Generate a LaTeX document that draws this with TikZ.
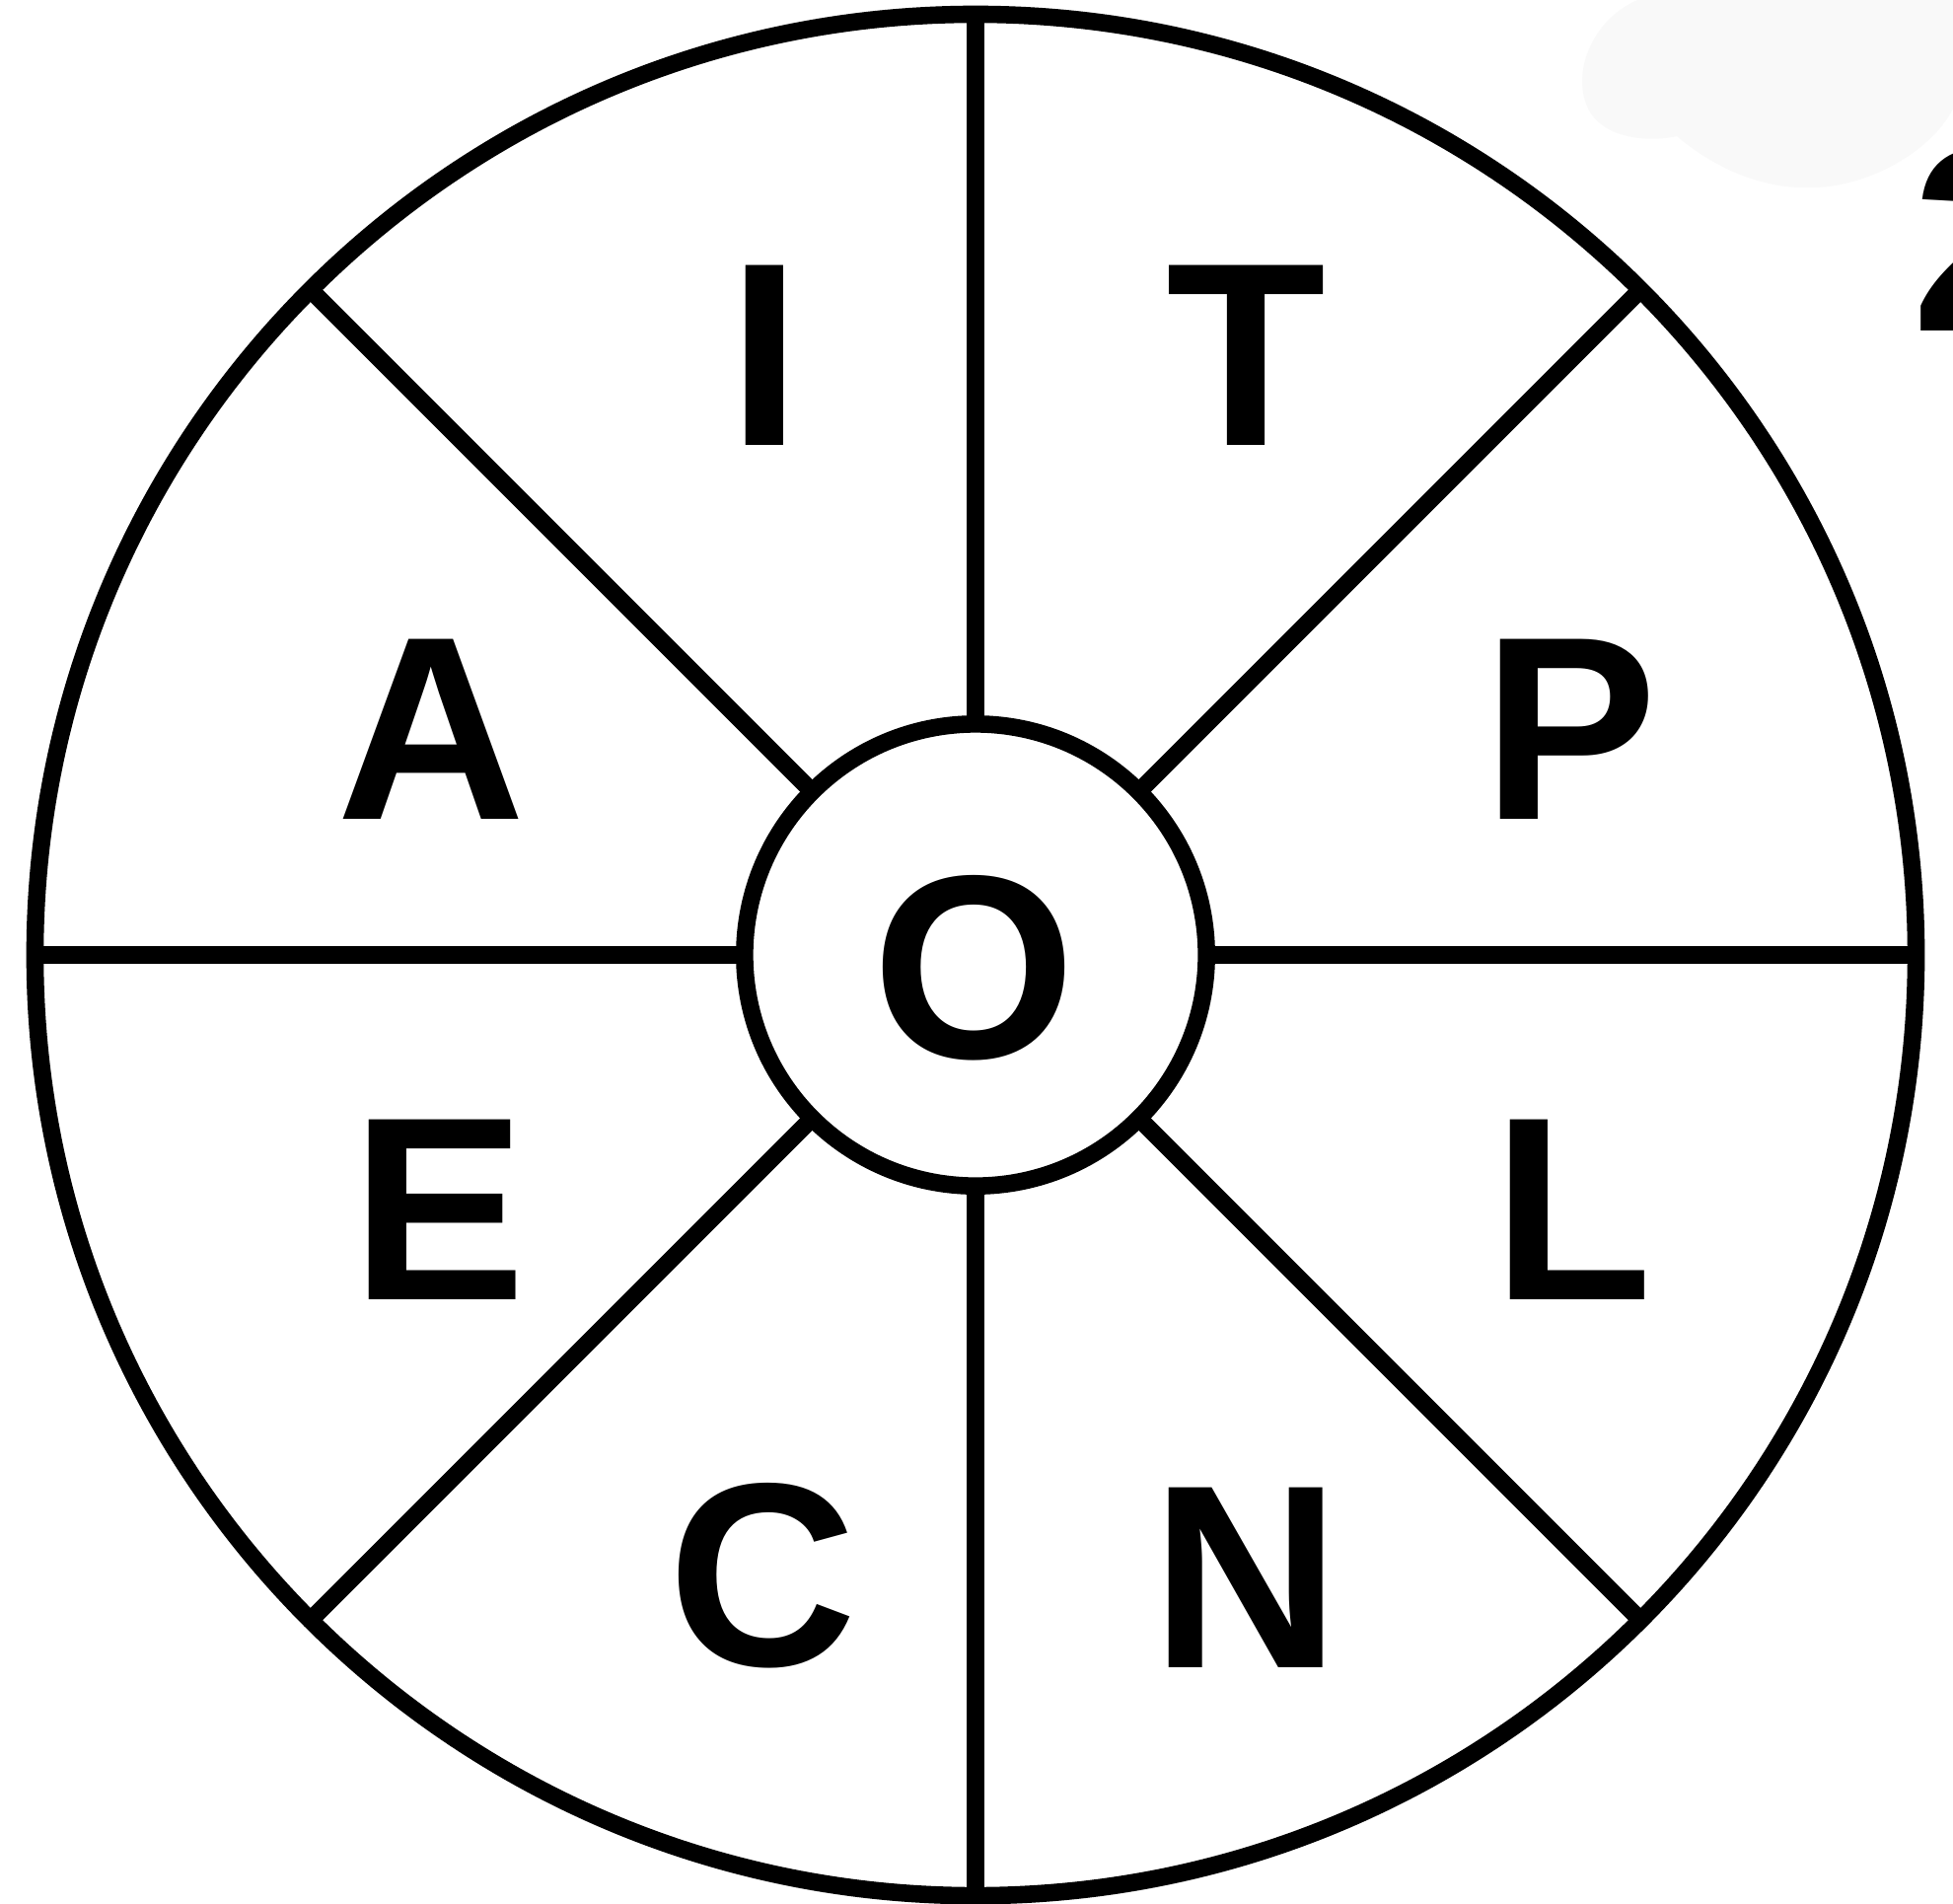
\documentclass[tikz,border=0pt]{standalone}
\usepackage{fontspec}
\setmainfont{Liberation Sans}
\definecolor{blobgray}{RGB}{249,249,249}
\tikzset{
  ring/.style={circle, draw=black, line width=5pt, inner sep=0pt, outer sep=0pt},
  spoke/.style={draw=black, line width=5pt},
  letter/.style={anchor=base, inner sep=0pt, outer sep=0pt, font=\fontsize{75.4pt}{80pt}\selectfont\bfseries}
}
\begin{document}
\begin{tikzpicture}[x=0.01cm,y=-0.01cm]
\useasboundingbox (0,0) rectangle (1980,1929);
\fill[white] (0,0) rectangle (1980,1929);
% faint background blob, top right
\fill[blobgray] (1660,0) .. controls (1615,20) and (1595,70) .. (1608,105)
  .. controls (1620,140) and (1670,145) .. (1700,138)
  .. controls (1750,180) and (1800,192) .. (1840,190)
  .. controls (1900,188) and (1960,150) .. (1980,110)
  -- (1980,0) -- cycle;
% partial digit at right edge
\node[letter, anchor=base west] (two) at (1938,335) {2};
% rings
\node[ring, minimum size=19.06cm] (outer) at (989,968) {};
\node[ring, minimum size=4.68cm] (inner) at (989,968) {};
% spokes
\foreach \a in {0,45,...,315} {
  \draw[spoke] (inner.\a) -- (outer.\a);
}
% letters
\node[letter] (lI) at (775,451) {I};
\node[letter] (lT) at (1263,451) {T};
\node[letter] (lA) at (437,830) {A};
\node[letter] (lP) at (1592,830) {P};
\node[letter] (lO) at (988,1072) {O};
\node[letter] (lE) at (445,1317) {E};
\node[letter] (lL) at (1594,1317) {L};
\node[letter] (lC) at (773,1688) {C};
\node[letter] (lN) at (1263,1690) {N};
\end{tikzpicture}
\end{document}
